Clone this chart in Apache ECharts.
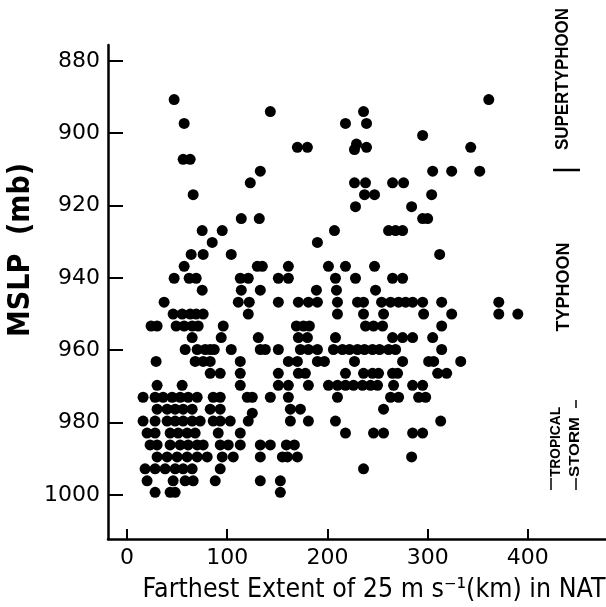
<!DOCTYPE html>
<html>
<head>
<meta charset="utf-8">
<script src="https://cdn.jsdelivr.net/npm/echarts@6/dist/echarts.min.js"></script>
<style>
html,body{margin:0;padding:0;background:#fff;}
#chart{width:606px;height:607px;}
</style>
</head>
<body>
<div id="chart"></div>
<script>
// MSLP levels (mb) of the plotted rows
const mslpLevels = [890.7, 894.0, 897.3, 900.6, 903.9, 907.2, 910.5, 913.7, 917.0, 920.3,
  923.6, 926.9, 930.2, 933.5, 936.8, 940.1, 943.4, 946.7, 950.0, 953.3,
  956.5, 959.8, 963.1, 966.4, 969.7, 973.0, 976.3, 979.6, 982.9, 986.2,
  989.5, 992.8, 996.1, 999.3];
// farthest extent of 25 m/s winds (km) for each MSLP level above
const extentByLevel = [
  [47, 361],
  [143, 236],
  [57, 218, 239],
  [295],
  [170, 180, 239, 343],
  [56, 63],
  [133, 305, 324, 352],
  [123, 227, 238, 265, 276],
  [66, 237, 247, 304],
  [228, 284],
  [114, 132, 295, 300],
  [75, 95, 207, 261, 268, 275],
  [85, 190],
  [64, 76, 104, 312],
  [57, 130, 135, 161, 201, 218, 247],
  [47, 62, 69, 113, 121, 151, 161, 208, 228, 265, 275],
  [75, 114, 133, 189, 209, 248],
  [37, 111, 122, 151, 171, 181, 190, 210, 230, 236, 254, 263, 271, 278, 285, 295, 314, 371],
  [46, 55, 63, 69, 76, 121, 210, 236, 256, 296, 324, 371, 390],
  [24, 30, 49, 57, 65, 71, 96, 169, 176, 182, 238, 246, 255, 314],
  [65, 94, 131, 171, 180, 208, 265, 275, 285, 305],
  [58, 70, 78, 83, 87, 104, 133, 138, 151, 173, 181, 190, 206, 215, 222, 230, 237, 245, 252, 261, 268, 314],
  [29, 68, 76, 83, 113, 161, 170, 190, 197, 227, 275, 301, 306, 333],
  [83, 93, 113, 151, 171, 178, 218, 236, 245, 251, 265, 270, 310, 319],
  [30, 55, 113, 151, 161, 181, 201, 210, 218, 226, 235, 243, 250, 266, 285, 295],
  [16, 28, 36, 45, 53, 61, 70, 86, 93, 120, 125, 143, 161, 210, 263, 271, 291, 298],
  [30, 40, 48, 56, 65, 83, 93, 163, 173, 256],
  [16, 28, 40, 48, 56, 65, 73, 86, 93, 103, 121, 163, 181, 208, 313],
  [20, 28, 43, 51, 60, 68, 91, 113, 218, 246, 256, 285, 295],
  [23, 30, 43, 53, 61, 70, 76, 93, 101, 113, 133, 143, 159, 167],
  [30, 40, 50, 60, 70, 80, 95, 106, 133, 155, 160, 170, 284],
  [18, 28, 38, 48, 56, 65, 93, 236],
  [20, 46, 58, 66, 88, 133, 153],
  [28, 43, 48, 153]
];
// a few points off the regular levels
const extraExtent = [229, 227, 125];
const extraMslp = [903.0, 904.5, 977.4];

const xTicks = [0, 100, 200, 300, 400];
const yTicks = [880, 900, 920, 940, 960, 980, 1000];

const points = [];
extentByLevel.forEach((row, i) => row.forEach(x => points.push([x, mslpLevels[i]])));
extraExtent.forEach((x, i) => points.push([x, extraMslp[i]]));

const ctx = document.createElement('canvas').getContext('2d');
function fit(text, font, target) { ctx.font = font; return target / ctx.measureText(text).width; }

function label(text, x, y, size, weight, family, target, rot) {
  const font = weight + ' ' + size + 'px "' + family + '"';
  return {
    type: 'text', x: x, y: y, rotation: rot, scaleX: fit(text, font, target),
    style: { text: text, fontSize: size, fontWeight: weight, fontFamily: family, fill: '#000',
      align: 'center', verticalAlign: 'middle' }
  };
}
function seg(x1, y1, x2, y2, w) {
  return { type: 'line', shape: { x1: x1, y1: y1, x2: x2, y2: y2 }, style: { stroke: '#000', lineWidth: w } };
}

const xName = 'Farthest Extent of 25 m s\u207B\u00B9(km) in NAT';
const chart = echarts.init(document.getElementById('chart'), null, { renderer: 'canvas' });
chart.setOption({
  animation: false,
  backgroundColor: '#fff',
  grid: { left: 108, right: 0, top: 45, bottom: 68, containLabel: false, outerBoundsMode: 'none' },
  xAxis: {
    type: 'value', min: -19, max: 478,
    axisLine: { onZero: false, lineStyle: { color: '#000', width: 2.5 } },
    axisTick: { inside: true, length: 10, customValues: xTicks, lineStyle: { color: '#000', width: 2 } },
    axisLabel: { customValues: xTicks, color: '#000', fontSize: 22, fontFamily: 'DejaVu Sans', margin: 8,
      formatter: v => String(v) },
    splitLine: { show: false }
  },
  yAxis: {
    type: 'value', min: 875.6, max: 1012.2, inverse: true,
    axisLine: { onZero: false, lineStyle: { color: '#000', width: 2.5 } },
    axisTick: { inside: true, length: 15, customValues: yTicks, lineStyle: { color: '#000', width: 2 } },
    axisLabel: { customValues: yTicks, color: '#000', fontSize: 22, fontFamily: 'DejaVu Sans', margin: 8,
      formatter: v => String(v) },
    splitLine: { show: false }
  },
  series: [{
    type: 'scatter', data: points, symbol: 'circle', symbolSize: 11,
    itemStyle: { color: '#000', opacity: 1 }, silent: true
  }],
  graphic: [
    label('MSLP  (mb)', 21, 250, 30, 'bold', 'DejaVu Sans', 174, Math.PI / 2),
    label(xName, 374, 590, 27, 'normal', 'DejaVu Sans', 463, 0),
    label('SUPERTYPHOON', 563, 79, 19, 'bold', 'Liberation Sans', 142, Math.PI / 2),
    seg(553, 170, 580, 170, 2.5),
    label('TYPHOON', 564, 287, 19, 'bold', 'Liberation Sans', 89, Math.PI / 2),
    label('TROPICAL', 556, 442, 15, 'bold', 'Liberation Sans', 70, Math.PI / 2),
    label('STORM', 575, 447, 15, 'bold', 'Liberation Sans', 60, Math.PI / 2),
    seg(551, 478, 551, 490, 1.5),
    seg(576, 478, 576, 490, 1.5),
    seg(576, 400, 576, 408, 1.5)
  ]
});
</script>
</body>
</html>
